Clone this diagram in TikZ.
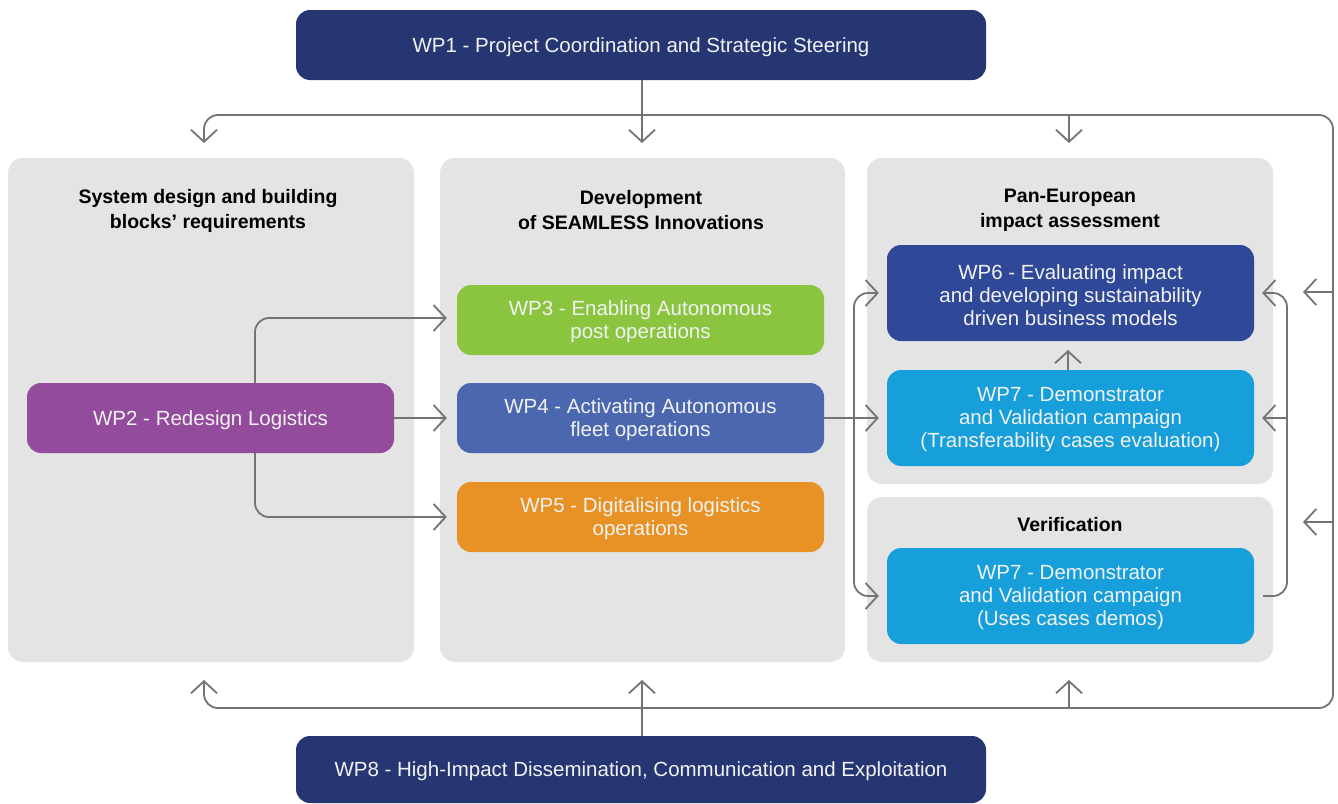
\documentclass[tikz,border=0pt]{standalone}
\usepackage{fontspec}
\setmainfont{Liberation Sans}
\usetikzlibrary{arrows.meta}

\definecolor{panelgray}{HTML}{E4E4E4}
\definecolor{linegray}{HTML}{747474}
\definecolor{navy}{HTML}{263673}
\definecolor{wpsix}{HTML}{2F4898}
\definecolor{wpfour}{HTML}{4A67B0}
\definecolor{wpthree}{HTML}{8BC540}
\definecolor{wpfive}{HTML}{E89125}
\definecolor{wpseven}{HTML}{169FDA}
\definecolor{wptwo}{HTML}{934C9C}
\definecolor{boxtext}{HTML}{F2F2F2}

\begin{document}
\begin{tikzpicture}[x=1pt,y=-1pt,
  panel/.style={fill=panelgray, rounded corners=15pt, inner sep=0pt},
  paneltitle/.style={font=\bfseries\fontsize{19.5}{25}\selectfont, align=center, text=black},
  wp/.style={rounded corners=14pt, text=boxtext, align=center, inner sep=0pt,
    minimum width=367pt, font=\fontsize{20.5}{23}\selectfont},
  wide/.style={wp, fill=navy, minimum width=690pt},
  conn/.style={draw=linegray, line width=1.8pt},
  lowered/.style={text depth=0pt, text height=0pt},
  >={Straight Barb[length=12pt,width=26pt]}
]
\useasboundingbox (0,0) rectangle (1338,803);
\clip (0,0) rectangle (1338,803);

% grey column panels
\node[panel, minimum width=406pt, minimum height=504pt] (p1) at (211,410) {};
\node[panel, minimum width=405pt, minimum height=504pt] (p2) at (642.5,410) {};
\node[panel, minimum width=406pt, minimum height=326pt] (p3) at (1070,321) {};
\node[panel, minimum width=406pt, minimum height=165pt] (p4) at (1070,579.5) {};

% panel titles
\node[paneltitle] (t1) at (208,210.5) {System design and building\\blocks’ requirements};
\node[paneltitle] (t2) at (641,210.5) {Development\\of SEAMLESS Innovations};
\node[paneltitle] (t3) at (1070,210.5) {Pan-European\\impact assessment};
\node[paneltitle] (t4) at (1070,525) {Verification};

% work packages (boxes, then their labels set 2pt lower)
\node[wide, minimum height=70pt] (wp1) at (641,45) {};
\node[wide, minimum height=67pt] (wp8) at (641,769.5) {};
\node[wp, fill=wptwo, minimum height=70pt] (wp2) at (210.5,418) {};
\node[wp, fill=wpthree, minimum height=70pt] (wp3) at (640.5,320) {};
\node[wp, fill=wpfour, minimum height=70pt] (wp4) at (640.5,418) {};
\node[wp, fill=wpfive, minimum height=70pt] (wp5) at (640.5,517) {};
\node[wp, fill=wpsix, minimum height=96pt] (wp6) at (1070.5,293) {};
\node[wp, fill=wpseven, minimum height=96pt] (wp7a) at (1070.5,418) {};
\node[wp, fill=wpseven, minimum height=96pt] (wp7b) at (1070.5,596) {};

\node[wp, minimum width=0pt] (l1) at ([yshift=-2pt]wp1.center) {WP1 - Project Coordination and Strategic Steering};
\node[wp, minimum width=0pt] (l8) at ([yshift=-2pt]wp8.center) {WP8 - High-Impact Dissemination, Communication and Exploitation};
\node[wp, minimum width=0pt] (l2) at ([yshift=-2pt]wp2.center) {WP2 - Redesign Logistics};
\node[wp, minimum width=0pt] (l3) at ([yshift=-2pt]wp3.center) {WP3 - Enabling Autonomous\\post operations};
\node[wp, minimum width=0pt] (l4) at ([yshift=-2pt]wp4.center) {WP4 - Activating Autonomous\\fleet operations};
\node[wp, minimum width=0pt] (l5) at ([yshift=-2pt]wp5.center) {WP5 - Digitalising logistics\\operations};
\node[wp, minimum width=0pt] (l6) at ([yshift=-2pt]wp6.center) {WP6 - Evaluating impact\\and developing sustainability\\driven business models};
\node[wp, minimum width=0pt] (l7a) at ([yshift=-2pt]wp7a.center) {WP7 - Demonstrator\\and Validation campaign\\(Transferability cases evaluation)};
\node[wp, minimum width=0pt] (l7b) at ([yshift=-2pt]wp7b.center) {WP7 - Demonstrator\\and Validation campaign\\(Uses cases demos)};

% bus coordinates
\coordinate (tL) at (204,143);
\coordinate (tM) at (642,143);
\coordinate (tR) at (1069,143);
\coordinate (bL) at (204,680);
\coordinate (bM) at (642,680);
\coordinate (bR) at (1069,680);
\coordinate (topbus) at (1069,115);
\coordinate (botbus) at (1069,708);
\coordinate (ne) at (1333,115);
\coordinate (se) at (1333,708);
\coordinate (inA) at (1303,292);
\coordinate (inB) at (1303,522);
\coordinate (j2) at (255,418);
\coordinate (j4) at (854,418);
\coordinate (j7) at (1287,418);

% coordination / dissemination loop
\draw[conn, <->, rounded corners=14pt] (tL) -- (tL |- ne) -- (ne) -- (se) -- (bL |- se) -- (bL);
\draw[conn, ->] (tM |- wp1.south) -- (tM);
\draw[conn, ->] (topbus) -- (tR);
\draw[conn, ->] (bM |- wp8.north) -- (bM);
\draw[conn, ->] (botbus) -- (bR);
\draw[conn, ->] (ne |- inA) -- (inA);
\draw[conn, ->] (ne |- inB) -- (inB);

% WP2 fan-out
\draw[conn, ->, rounded corners=14pt] (j2 |- wp2.north) -- (255,318) -- ([xshift=-10pt]wp3.west |- 0,318);
\draw[conn, ->] (wp2.east) -- ([xshift=-10pt]wp4.west);
\draw[conn, ->, rounded corners=14pt] (j2 |- wp2.south) -- (255,517) -- ([xshift=-10pt]wp5.west);

% WP4 towards assessment and verification
\draw[conn, ->] (wp4.east) -- ([xshift=-8pt]wp7a.west);
\draw[conn, <->, rounded corners=14pt] ([xshift=-8pt]wp6.west) -- (j4 |- wp6.west) -- (j4 |- wp7b.west) -- ([xshift=-8pt]wp7b.west);

% feedback inside the assessment column
\draw[conn, ->] (1068,370) -- (1068,350);
\draw[conn, ->, rounded corners=14pt] ([xshift=9pt]wp7b.east) -- (j7 |- wp7b.east) -- (j7 |- wp6.east) -- ([xshift=8pt]wp6.east);
\draw[conn, ->] (j7 |- wp7a.east) -- ([xshift=8pt]wp7a.east);
\end{tikzpicture}
\end{document}
